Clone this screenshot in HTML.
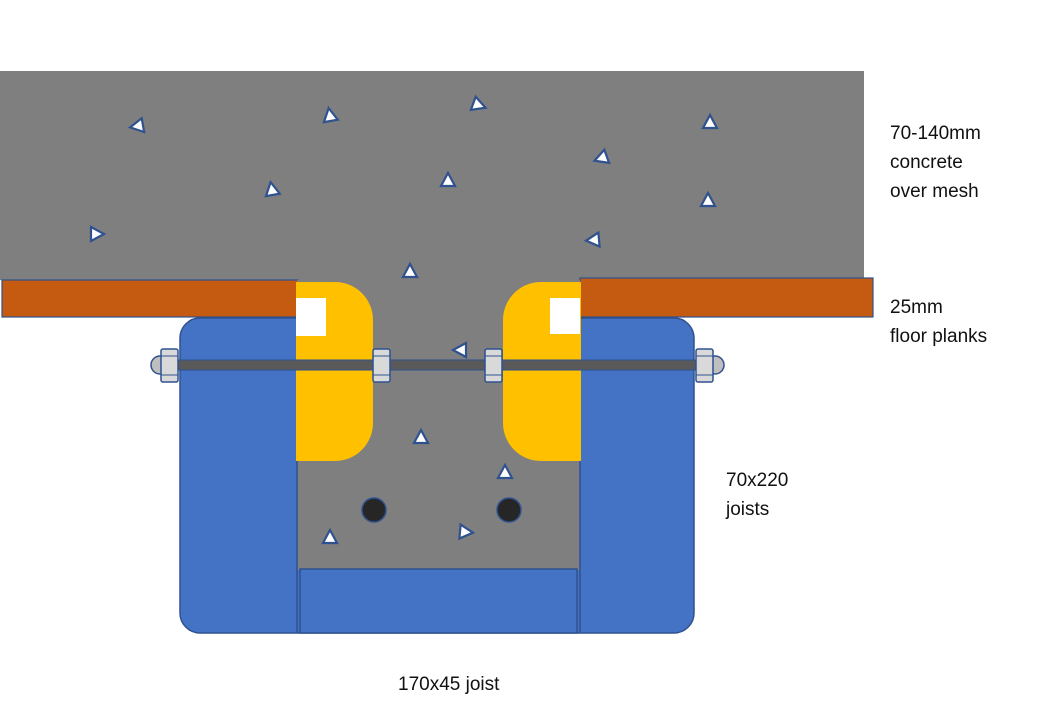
<!DOCTYPE html>
<html><head><meta charset="utf-8"><style>
html,body{margin:0;padding:0;background:#fff;}
svg{display:block;}
text{font-family:"Liberation Sans",sans-serif;font-size:19px;fill:#111;}
</style></head><body>
<svg width="1052" height="727" viewBox="0 0 1052 727">
<defs>
<polygon id="t" points="0,-8 7,5 -7,5" fill="#fff" stroke="#2f528f" stroke-width="2.2"/>
</defs>
<!-- concrete slab -->
<rect x="0" y="71" width="864" height="209" fill="#7f7f7f"/>
<!-- planks -->
<rect x="2" y="280" width="296" height="37" fill="#c55a11" stroke="#2f528f" stroke-width="1.2"/>
<rect x="580" y="278" width="293" height="39" fill="#c55a11" stroke="#2f528f" stroke-width="1.2"/>
<!-- blue joists -->
<rect x="180" y="318" width="514" height="315" rx="20" fill="#4472c4" stroke="#2f528f" stroke-width="1.5"/>
<!-- gray channel -->
<rect x="297" y="280" width="283" height="290" fill="#7f7f7f"/>
<line x1="297" y1="318" x2="297" y2="633" stroke="#2f528f" stroke-width="1.5"/>
<line x1="580" y1="318" x2="580" y2="633" stroke="#2f528f" stroke-width="1.5"/>
<!-- bottom joist -->
<rect x="300" y="569" width="277" height="64" fill="#4472c4" stroke="#2f528f" stroke-width="1.5"/>
<!-- yellow packers -->
<path d="M296,282 H335 A38,38 0 0 1 373,320 V423 A38,38 0 0 1 335,461 H296 Z" fill="#ffc000"/>
<path d="M581,282 H541 A38,38 0 0 0 503,320 V423 A38,38 0 0 0 541,461 H581 Z" fill="#ffc000"/>
<rect x="296" y="298" width="30" height="38" fill="#fff"/>
<rect x="550" y="298" width="30" height="36" fill="#fff"/>
<!-- rod -->
<rect x="160" y="360" width="556" height="10" fill="#595959" stroke="#2f528f" stroke-width="1"/>
<circle cx="160" cy="365" r="9" fill="#bfbfbf" stroke="#2f528f" stroke-width="1.5"/>
<circle cx="715" cy="365" r="9" fill="#bfbfbf" stroke="#2f528f" stroke-width="1.5"/>
<g fill="#d9d9d9" stroke="#2f528f" stroke-width="1.5">
<rect x="161" y="349" width="17" height="33" rx="2"/>
<rect x="373" y="349" width="17" height="33" rx="2"/>
<rect x="485" y="349" width="17" height="33" rx="2"/>
<rect x="696" y="349" width="17" height="33" rx="2"/>
</g>
<g stroke="#2f528f" stroke-width="1">
<line x1="161" y1="356" x2="178" y2="356"/><line x1="161" y1="375" x2="178" y2="375"/>
<line x1="373" y1="356" x2="390" y2="356"/><line x1="373" y1="375" x2="390" y2="375"/>
<line x1="485" y1="356" x2="502" y2="356"/><line x1="485" y1="375" x2="502" y2="375"/>
<line x1="696" y1="356" x2="713" y2="356"/><line x1="696" y1="375" x2="713" y2="375"/>
</g>
<!-- rebar -->
<circle cx="374" cy="510" r="12" fill="#262626" stroke="#2f528f" stroke-width="1.5"/>
<circle cx="509" cy="510" r="12" fill="#262626" stroke="#2f528f" stroke-width="1.5"/>
<!-- aggregate triangles -->
<use href="#t" transform="translate(138,126) rotate(-100)"/>
<use href="#t" transform="translate(330,116) rotate(-10)"/>
<use href="#t" transform="translate(478,105) rotate(110)"/>
<use href="#t" transform="translate(710,123)"/>
<use href="#t" transform="translate(602,158) rotate(-110)"/>
<use href="#t" transform="translate(448,181)"/>
<use href="#t" transform="translate(272,190) rotate(-10)"/>
<use href="#t" transform="translate(708,201)"/>
<use href="#t" transform="translate(96,234) rotate(90)"/>
<use href="#t" transform="translate(594,240) rotate(-95)"/>
<use href="#t" transform="translate(410,272)"/>
<use href="#t" transform="translate(461,350) rotate(-90)"/>
<use href="#t" transform="translate(421,438)"/>
<use href="#t" transform="translate(505,473)"/>
<use href="#t" transform="translate(330,538)"/>
<use href="#t" transform="translate(465,532) rotate(95)"/>
<!-- labels -->
<text x="890" y="139">70-140mm</text>
<text x="890" y="168">concrete</text>
<text x="890" y="197">over mesh</text>
<text x="890" y="313">25mm</text>
<text x="890" y="342">floor planks</text>
<text x="726" y="486">70x220</text>
<text x="726" y="515">joists</text>
<text x="398" y="690">170x45 joist</text>
</svg>
</body></html>
